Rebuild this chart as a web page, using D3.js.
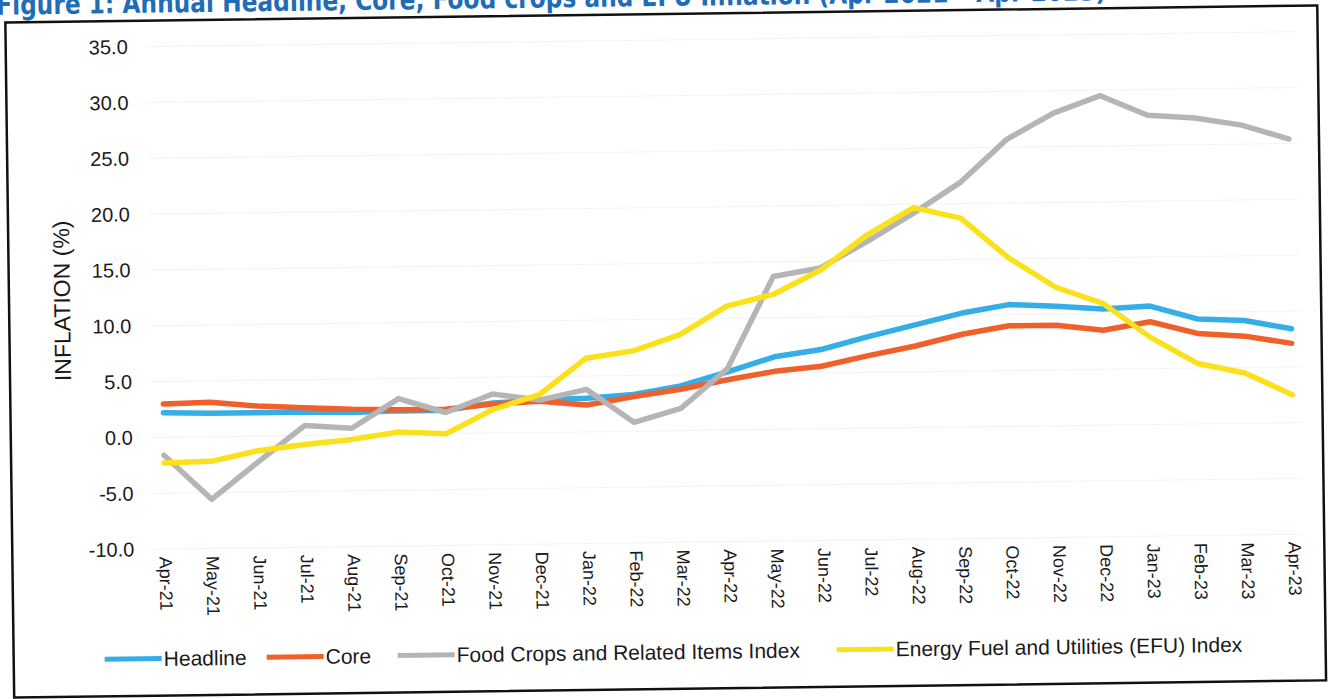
<!DOCTYPE html>
<html>
<head>
<meta charset="utf-8">
<script src="https://cdn.jsdelivr.net/npm/d3@7"></script>
<style>
  html, body { margin: 0; padding: 0; background: #fff; }
  svg { display: block; font-family: Arial, "Liberation Sans", sans-serif; }
</style>
</head>
<body>
<svg id="chart"></svg>
<script>
// months on the category axis
const months = ['Apr-21','May-21','Jun-21','Jul-21','Aug-21','Sep-21','Oct-21','Nov-21','Dec-21',
  'Jan-22','Feb-22','Mar-22','Apr-22','May-22','Jun-22','Jul-22','Aug-22','Sep-22','Oct-22',
  'Nov-22','Dec-22','Jan-23','Feb-23','Mar-23','Apr-23']

// annual inflation (%)
const headline = [2.2, 2.1, 2.1, 2.1, 2.0, 2.1, 2.1, 2.7, 2.9, 3.0, 3.3, 4.0, 5.2, 6.5, 7.1, 8.2, 9.2, 10.2, 10.9, 10.7, 10.4, 10.6, 9.4, 9.2, 8.4]
const core = [3.0, 3.1, 2.7, 2.5, 2.3, 2.2, 2.2, 2.6, 2.8, 2.4, 3.1, 3.7, 4.5, 5.2, 5.6, 6.5, 7.3, 8.3, 9.0, 9.0, 8.5, 9.2, 8.1, 7.8, 7.1]
const foodCrops = [-1.6, -5.6, -2.3, 0.9, 0.6, 3.2, 1.9, 3.5, 2.9, 3.8, 0.8, 2.0, 5.5, 13.7, 14.4, 16.7, 19.2, 21.9, 25.7, 28.0, 29.5, 27.7, 27.4, 26.7, 25.4]
const efu = [-2.3, -2.2, -1.3, -0.8, -0.4, 0.2, 0.0, 2.1, 3.4, 6.6, 7.2, 8.6, 11.1, 12.1, 14.2, 17.3, 19.7, 18.7, 15.1, 12.4, 10.9, 7.8, 5.4, 4.5, 2.5]

// y axis ticks
const yTicks = [35, 30, 25, 20, 15, 10, 5, 0, -5, -10]

const series = [
  { name: 'Headline', values: headline, color: '#35aee6' },
  { name: 'Core', values: core, color: '#f0602a' },
  { name: 'Food Crops and Related Items Index', values: foodCrops, color: '#b5b5b5' },
  { name: 'Energy Fuel and Utilities (EFU) Index', values: efu, color: '#fbe11c' }
]

const width = 1333
const height = 699

const svg = d3.select('#chart')
  .attr('width', width)
  .attr('height', height)

// the scanned page sits slightly tilted
const page = svg.append('g')
  .attr('transform', 'rotate(-0.75, 130, 300)')

// title, mostly cut off at the top of the scan
page.append('text')
  .attr('x', 0)
  .attr('y', 13)
  .attr('textLength', 1110)
  .attr('lengthAdjust', 'spacingAndGlyphs')
  .style('font-family', '"DejaVu Sans", Verdana, sans-serif')
  .style('font-weight', 'bold')
  .style('font-size', '28px')
  .style('fill', '#1f6cb8')
  .text('Figure 1:  Annual Headline, Core, Food crops and EFU Inflation (Apr 2021 – Apr 2023)')

page.append('rect')
  .attr('x', 9)
  .attr('y', 21)
  .attr('width', 1312)
  .attr('height', 675)
  .attr('fill', 'none')
  .attr('stroke', '#111')
  .attr('stroke-width', 2.5)

const x = d3.scalePoint()
  .domain(months)
  .range([162, 1291])

const y = d3.scaleLinear()
  .domain([-10, 35])
  .range([549.5, 47])

// faint gridlines
page.append('g')
  .selectAll('line')
  .data(yTicks)
  .join('line')
    .attr('x1', 150)
    .attr('x2', 1300)
    .attr('y1', d => y(d))
    .attr('y2', d => y(d))
    .attr('stroke', '#f3f3f3')
    .attr('stroke-width', 1)

// y axis labels
const yAxis = d3.axisLeft(y)
  .tickValues(yTicks)
  .tickFormat(d => d.toFixed(1))
  .tickSize(0)
  .tickPadding(0)

const gy = page.append('g')
  .attr('transform', 'translate(131, 0)')
  .call(yAxis)
gy.select('.domain').remove()
gy.selectAll('text')
  .style('font-size', '20px')
  .style('font-family', 'Arial, "Liberation Sans", sans-serif')
  .attr('fill', '#1a1a1a')

page.append('text')
  .attr('transform', 'translate(70, 300) rotate(-90)')
  .attr('text-anchor', 'middle')
  .style('font-size', '23px')
  .attr('fill', '#1a1a1a')
  .text('INFLATION (%)')

// x axis labels, rotated
const xAxis = d3.axisBottom(x)
  .tickSize(0)
  .tickPadding(0)

const gx = page.append('g')
  .attr('transform', 'translate(0, 557)')
  .call(xAxis)
gx.select('.domain').remove()
gx.selectAll('text')
  .attr('transform', 'rotate(90)')
  .attr('x', 0)
  .attr('y', 0)
  .attr('dy', '0.35em')
  .attr('text-anchor', 'start')
  .style('font-size', '18px')
  .style('font-family', 'Arial, "Liberation Sans", sans-serif')
  .attr('fill', '#1a1a1a')

// lines
const line = d3.line()
  .x((d, i) => x(months[i]))
  .y(d => y(d))

page.append('g')
  .selectAll('path')
  .data(series)
  .join('path')
    .attr('d', d => line(d.values))
    .attr('fill', 'none')
    .attr('stroke', d => d.color)
    .attr('stroke-width', 5.5)
    .attr('stroke-linejoin', 'round')
    .attr('stroke-linecap', 'round')

// legend
const legendPos = [100, 262, 393, 832]

const legend = page.append('g')
  .selectAll('g')
  .data(series)
  .join('g')
    .attr('transform', (d, i) => `translate(${legendPos[i]}, 659)`)

legend.append('line')
  .attr('x1', 0)
  .attr('x2', 57)
  .attr('y1', 0)
  .attr('y2', 0)
  .attr('stroke', d => d.color)
  .attr('stroke-width', 5)

legend.append('text')
  .attr('x', 59)
  .attr('y', 0)
  .attr('dy', '0.35em')
  .style('font-size', '21px')
  .attr('fill', '#1a1a1a')
  .text(d => d.name)
</script>
</body>
</html>
